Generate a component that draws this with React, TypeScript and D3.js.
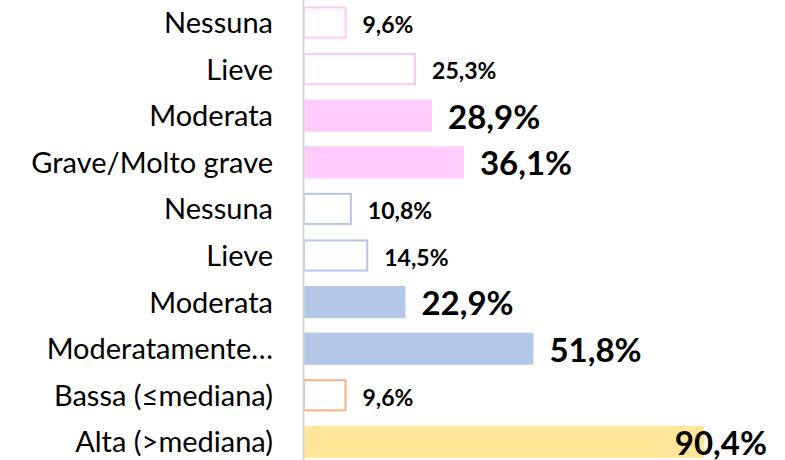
import * as d3 from 'd3';
import { useEffect, useRef } from 'react';

const W = 785;
const H = 460;

const categories = [
    'Nessuna',
    'Lieve',
    'Moderata',
    'Grave/Molto grave',
    'Nessuna',
    'Lieve',
    'Moderata',
    'Moderatamente…',
    'Bassa (≤mediana)',
    'Alta (>mediana)',
];
const values = [9.6, 25.3, 28.9, 36.1, 10.8, 14.5, 22.9, 51.8, 9.6, 90.4];
// filled bars get the big label, outlined bars the small one
const filled = [false, false, true, true, false, false, true, true, false, true];
const colors = [
    '#ffc7f5', '#ffc7f5', '#ffccfb', '#ffccfb',
    '#b4c7e7', '#b4c7e7', '#b4c7e7', '#b4c7e7',
    '#f4b183', '#ffe699',
];

const fmt = (v: number) => v.toFixed(1).replace('.', ',') + '%';

export default function App() {
    const svgRef = useRef<SVGSVGElement | null>(null);

    useEffect(() => {
        if (!svgRef.current) return;
        const svg = d3.select(svgRef.current);
        svg.selectAll('*').remove();

        const x0 = 303;
        const xScale = d3.scaleLinear().domain([0, 100]).range([x0, x0 + 443]);
        const yScale = d3
            .scaleBand<number>()
            .domain(d3.range(categories.length))
            .range([-0.8, 465.2])
            .paddingInner(0.31)
            .paddingOuter(0.155);

        const rows = svg
            .selectAll('g.row')
            .data(values)
            .join('g')
            .attr('class', 'row');

        // bars (outlined ones are inset by half the stroke)
        rows.append('rect')
            .attr('x', xScale(0) + 1)
            .attr('y', (_, i) => yScale(i)! + (filled[i] ? 0 : 1))
            .attr('width', (d, i) => xScale(d) - xScale(0) - (filled[i] ? 0 : 1))
            .attr('height', (_, i) => yScale.bandwidth() - (filled[i] ? 0 : 2))
            .attr('fill', (_, i) => (filled[i] ? colors[i] : '#ffffff'))
            .attr('stroke', (_, i) => (filled[i] ? 'none' : colors[i]))
            .attr('stroke-width', 2);

        // category labels
        rows.append('text')
            .attr('x', 273)
            .attr('y', (_, i) => yScale(i)! + yScale.bandwidth() / 2)
            .attr('dy', '0.36em')
            .attr('text-anchor', 'end')
            .attr('font-family', 'Lato, "Open Sans", sans-serif')
            .attr('font-size', 29)
            .attr('fill', '#000')
            .text((_, i) => categories[i]);

        // value labels
        rows.append('text')
            .attr('y', (_, i) => yScale(i)! + yScale.bandwidth() / 2 + (filled[i] ? 1 : 2))
            .attr('dy', '0.36em')
            .attr('font-family', 'Lato, "Open Sans", sans-serif')
            .attr('font-weight', 'bold')
            .attr('font-size', (_, i) => (filled[i] ? 33 : 23))
            .attr('fill', '#000')
            .text((d) => fmt(d))
            .each(function (d) {
                const w = (this as SVGTextElement).getComputedTextLength();
                d3.select(this).attr('x', Math.min(xScale(d) + 17, 767 - w));
            });

        // vertical axis line
        svg.append('line')
            .attr('x1', x0 + 0.5)
            .attr('x2', x0 + 0.5)
            .attr('y1', 0)
            .attr('y2', H)
            .attr('stroke', '#d9d9d9')
            .attr('stroke-width', 2);
    }, []);

    return (
        <div style={{ position: 'fixed', left: 0, top: 0, width: W, height: H, background: '#fff' }}>
            <svg ref={svgRef} width={W} height={H} style={{ display: 'block' }}></svg>
        </div>
    );
}
